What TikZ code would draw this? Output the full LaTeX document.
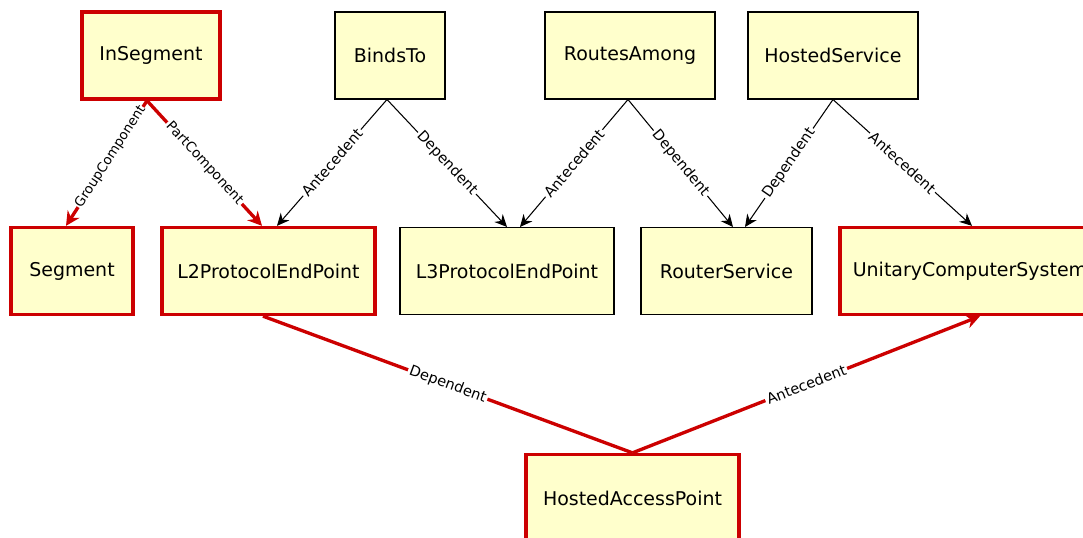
\documentclass[tikz,border=0pt]{standalone}
\usepackage{fontspec}
\setmainfont{DejaVu Sans}
\usepackage{tikz}
\usetikzlibrary{arrows.meta}
\definecolor{boxyellow}{HTML}{FFFFCC}
\definecolor{keyred}{HTML}{CC0000}

\begin{document}
\begin{tikzpicture}[x=0.02cm, y=-0.02cm,
		every node/.style={font=\fontsize{10.8}{13}\selectfont},
		cls/.style={draw=black, line width=0.6pt, fill=boxyellow, minimum height=1.74cm, inner sep=0pt},
		keycls/.style={cls, draw=keyred, line width=1.9pt},
		assoc/.style={draw=black, line width=0.6pt, -{Stealth[length=7pt, width=6.5pt]}},
		keyline/.style={draw=keyred, line width=1.9pt},
		keyassoc/.style={keyline, -{Stealth[length=8pt, width=8pt]}},
		role/.style={font=\fontsize{8.3}{10}\selectfont, fill=white, inner sep=1pt, sloped, midway}]
		\useasboundingbox (0,0) rectangle (1083,538);
		\node[keycls, minimum width=2.76cm] (inseg) at (151,55.5) {InSegment};
		\node[cls, minimum width=2.2cm] (bindsto) at (390,55.5) {BindsTo};
		\node[cls, minimum width=3.4cm] (routes) at (630,55.5) {RoutesAmong};
		\node[cls, minimum width=3.4cm] (hostsvc) at (833,55.5) {HostedService};
		\node[keycls, minimum width=2.44cm] (segment) at (72,271) {Segment};
		\node[keycls, minimum width=4.26cm] (ltwo) at (268.5,271) {L2ProtocolEndPoint};
		\node[cls, minimum width=4.28cm] (lthree) at (507,271) {L3ProtocolEndPoint};
		\node[cls, minimum width=3.42cm] (router) at (726.5,271) {RouterService};
		\node[keycls, minimum width=5.2cm] (ucs) at (970,271) {UnitaryComputerSystem};
		\node[keycls, minimum width=4.26cm] (hap) at (632.5,498) {HostedAccessPoint};
		\draw[keyassoc] ([xshift=-0.08cm]inseg.south) -- node[role, pos=0.45, inner sep=0.3pt, font=\fontsize{7.6}{9}\selectfont] {GroupComponent} ([xshift=-0.12cm]segment.north);
		\draw[keyassoc] ([xshift=-0.08cm]inseg.south) -- node[role, font=\fontsize{7.8}{9}\selectfont] {PartComponent} ([xshift=-0.13cm]ltwo.north);
		\draw[assoc] ([xshift=-0.06cm]bindsto.south) -- node[role] {Antecedent} ([xshift=0.17cm]ltwo.north);
		\draw[assoc] ([xshift=-0.06cm]bindsto.south) -- node[role] {Dependent} (lthree.north);
		\draw[assoc] ([xshift=-0.04cm]routes.south) -- node[role] {Antecedent} ([xshift=0.26cm]lthree.north);
		\draw[assoc] ([xshift=-0.04cm]routes.south) -- node[role] {Dependent} ([xshift=0.13cm]router.north);
		\draw[assoc] (hostsvc.south) -- node[role] {Dependent} ([xshift=0.37cm]router.north);
		\draw[assoc] (hostsvc.south) -- node[role] {Antecedent} ([xshift=0.04cm]ucs.north);
		\draw[keyline] (hap.north) -- node[role] {Dependent} ([xshift=-0.11cm]ltwo.south);
		\draw[keyassoc] (hap.north) -- node[role] {Antecedent} ([xshift=0.2cm]ucs.south);
	\end{tikzpicture}
\end{document}
